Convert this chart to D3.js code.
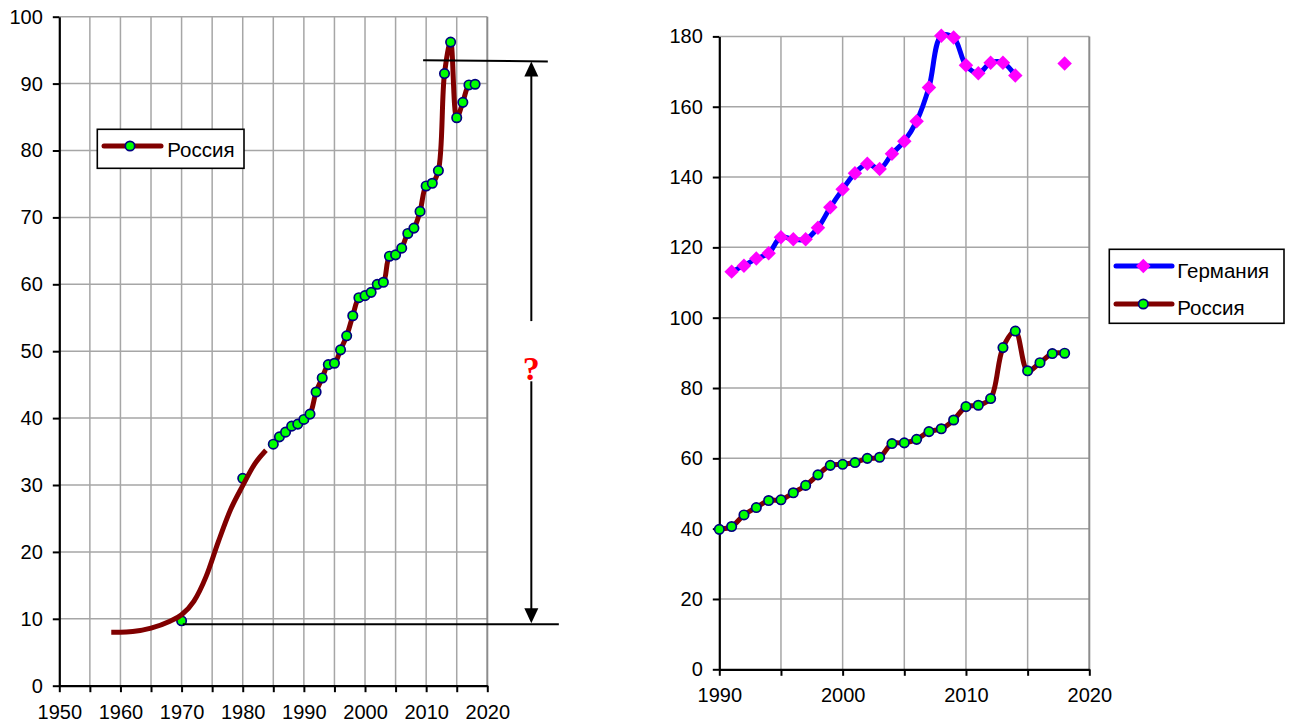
<!DOCTYPE html>
<html>
<head>
<meta charset="utf-8">
<script src="https://cdn.jsdelivr.net/npm/d3@7"></script>
<style>
  html, body { margin: 0; padding: 0; background: #ffffff; }
  svg { display: block; font-family: Arial, "Liberation Sans", sans-serif; }
</style>
</head>
<body>
<svg id="chart" width="1291" height="724"></svg>
<script>
// ---------------- DATA ----------------
const russiaYears = [1970, 1980, 1985, 1986, 1987, 1988, 1989, 1990, 1991, 1992, 1993, 1994, 1995,
  1996, 1997, 1998, 1999, 2000, 2001, 2002, 2003, 2004, 2005, 2006, 2007, 2008, 2009, 2010,
  2011, 2012, 2013, 2014, 2015, 2016, 2017, 2018];
const russiaValues = [9.7, 31.0, 36.1, 37.2, 37.9, 38.8, 39.1, 39.8, 40.6, 43.9, 46.0, 48.0, 48.2,
  50.2, 52.3, 55.3, 58.0, 58.3, 58.8, 60.0, 60.3, 64.2, 64.4, 65.4, 67.6, 68.4, 70.9, 74.7,
  75.1, 77.0, 91.5, 96.2, 84.9, 87.2, 89.8, 89.9];

// hand-drawn trend curve on the left chart (no markers)
const trendYears = [1958.5, 1960, 1962, 1965, 1968, 1970, 1972, 1974, 1976, 1978, 1980, 1982, 1983.8];
const trendValues = [8.0, 8.0, 8.1, 8.6, 9.6, 10.6, 12.6, 16.3, 21.5, 26.3, 29.9, 33.2, 35.2];

const germanyYears = [1991, 1992, 1993, 1994, 1995, 1996, 1997, 1998, 1999, 2000, 2001, 2002, 2003,
  2004, 2005, 2006, 2007, 2008, 2009, 2010, 2011, 2012, 2013, 2014, 2015, 2016, 2017, 2018];
const germanyValues = [113.1, 114.8, 116.8, 118.3, 122.9, 122.3, 122.3, 125.6, 131.4, 136.5, 141.1, 143.8, 142.3,
  146.6, 150.2, 155.9, 165.5, 180.2, 179.7, 171.8, 169.5, 172.5, 172.5, 168.9, null, null, null, 172.3];

const leftXTicks = [1950, 1955, 1960, 1965, 1970, 1975, 1980, 1985, 1990, 1995, 2000, 2005, 2010, 2015, 2020];
const leftYTicks = [0, 10, 20, 30, 40, 50, 60, 70, 80, 90, 100];
const rightXTicks = [1990, 1995, 2000, 2005, 2010, 2015, 2020];
const rightYTicks = [0, 20, 40, 60, 80, 100, 120, 140, 160, 180];

const seriesNames = ["Германия", "Россия"];
const questionMark = "?";

// annotation (in data units of the left chart)
const bracketTopValues = [93.5, 93.3];     // upper horizontal line, left/right end
const bracketTopYears = [2009.5, 2029.9];
const bracketBottomValue = 9.2;
const bracketBottomYears = [1970.2, 2031.7];
const arrowYear = 2027.2;
const arrowGapValues = [54.5, 45.5];       // shaft interrupted around the "?"

// ---------------- STYLE ----------------
const C = {
  russia: "#800000", germany: "#0000ff", dot: "#00ff00", dotStroke: "#000080",
  diamond: "#ff00ff", grid: "#a6a6a6", axis: "#000000"
};
const FONT = 20;
const DOT_R = 4.7;
const DIAMOND_AREA = 105;

const svg = d3.select("#chart");

function drawPanel(g, x, y, xTicks, yTicks, xLabelEvery) {
  g.append("g").selectAll("line").data(yTicks.filter(d => d !== 0)).join("line")
    .attr("x1", x.range()[0]).attr("x2", x.range()[1])
    .attr("y1", d => y(d)).attr("y2", d => y(d))
    .attr("stroke", C.grid).attr("stroke-width", 1.5);
  g.append("g").selectAll("line").data(xTicks.slice(1)).join("line")
    .attr("x1", d => x(d)).attr("x2", d => x(d))
    .attr("y1", y.range()[0]).attr("y2", y.range()[1])
    .attr("stroke", (d, i, n) => i === n.length - 1 ? "#8c8c8c" : C.grid)
    .attr("stroke-width", (d, i, n) => i === n.length - 1 ? 2 : 1.5);

  const xAxis = d3.axisBottom(x).tickValues(xTicks).tickSize(6.5).tickSizeOuter(0).tickPadding(12.5)
    .tickFormat(d => (d % xLabelEvery === 0 ? String(d) : ""));
  const yAxis = d3.axisLeft(y).tickValues(yTicks).tickSize(6.5).tickSizeOuter(0).tickPadding(10)
    .tickFormat(d => String(d));

  const gx = g.append("g").attr("transform", `translate(0,${y.range()[0]})`).call(xAxis);
  const gy = g.append("g").attr("transform", `translate(${x.range()[0]},0)`).call(yAxis);
  [gx, gy].forEach(a => {
    a.select(".domain").attr("stroke", C.axis).attr("stroke-width", 2.2);
    a.selectAll(".tick line").attr("stroke", C.axis).attr("stroke-width", 2);
    a.selectAll(".tick text").attr("fill", "#000").style("font-size", FONT + "px")
      .style("font-family", "Arial, 'Liberation Sans', sans-serif");
  });
}

function dots(g, data, x, y) {
  g.append("g").selectAll("circle").data(data).join("circle")
    .attr("cx", d => x(d.year)).attr("cy", d => y(d.value)).attr("r", DOT_R)
    .attr("fill", C.dot).attr("stroke", C.dotStroke).attr("stroke-width", 1.7);
}

function diamonds(g, data, x, y) {
  const sym = d3.symbol(d3.symbolSquare, DIAMOND_AREA);
  g.append("g").selectAll("path").data(data).join("path")
    .attr("d", sym())
    .attr("transform", d => `translate(${x(d.year)},${y(d.value)}) rotate(45)`)
    .attr("fill", C.diamond);
}

const russia = russiaYears.map((year, i) => ({ year, value: russiaValues[i] }));
const trend = trendYears.map((year, i) => ({ year, value: trendValues[i] }));
const germany = germanyYears.map((year, i) => ({ year, value: germanyValues[i] }));

// ================= LEFT CHART =================
const xL = d3.scaleLinear().domain([1950, 2020]).range([59.3, 487.3]);
const yL = d3.scaleLinear().domain([0, 100]).range([685.7, 16.7]);
const gL = svg.append("g");
drawPanel(gL, xL, yL, leftXTicks, leftYTicks, 10);

const lineL = d3.line().x(d => xL(d.year)).y(d => yL(d.value)).curve(d3.curveCatmullRom.alpha(0.5));
const russiaLeftLine = russia.filter(d => d.year >= 1985);
gL.append("path").datum(russiaLeftLine).attr("d", lineL)
  .attr("fill", "none").attr("stroke", C.russia).attr("stroke-width", 5)
  .attr("stroke-linejoin", "round");
dots(gL, russia, xL, yL);
gL.append("path").datum(trend)
  .attr("d", d3.line().x(d => xL(d.year)).y(d => yL(d.value)).curve(d3.curveMonotoneX))
  .attr("fill", "none").attr("stroke", C.russia).attr("stroke-width", 5);

// annotation lines and arrows
const ann = gL.append("g").attr("stroke", "#000").attr("stroke-width", 2);
ann.append("line")
  .attr("x1", xL(bracketTopYears[0])).attr("y1", yL(bracketTopValues[0]))
  .attr("x2", xL(bracketTopYears[1])).attr("y2", yL(bracketTopValues[1]));
ann.append("line")
  .attr("x1", xL(bracketBottomYears[0])).attr("y1", yL(bracketBottomValue))
  .attr("x2", xL(bracketBottomYears[1])).attr("y2", yL(bracketBottomValue));
const ax = xL(arrowYear);
const topTip = yL(bracketTopValues[0]) + 1.2;
const botTip = yL(bracketBottomValue) - 1;
ann.append("line").attr("x1", ax).attr("x2", ax).attr("y1", topTip + 14).attr("y2", yL(arrowGapValues[0]));
ann.append("line").attr("x1", ax).attr("x2", ax).attr("y1", yL(arrowGapValues[1])).attr("y2", botTip - 14);
gL.append("path").attr("d", `M${ax},${topTip} L${ax - 7},${topTip + 15} L${ax + 7},${topTip + 15} Z`).attr("fill", "#000");
gL.append("path").attr("d", `M${ax},${botTip} L${ax - 7},${botTip - 15} L${ax + 7},${botTip - 15} Z`).attr("fill", "#000");
gL.append("text").attr("x", ax).attr("y", yL(50) + 29).attr("text-anchor", "middle")
  .attr("fill", "#ff0000").style("font-family", "'Liberation Serif', 'Times New Roman', serif")
  .style("font-weight", "bold").style("font-size", "34px").text(questionMark);

// left legend
const lg = gL.append("g");
lg.append("rect").attr("x", 97.3).attr("y", 129.3).attr("width", 146.7).attr("height", 39)
  .attr("fill", "#fff").attr("stroke", "#000").attr("stroke-width", 1.6);
lg.append("line").attr("x1", 104).attr("x2", 161).attr("y1", 146).attr("y2", 146)
  .attr("stroke", C.russia).attr("stroke-width", 5).attr("stroke-linecap", "round");
lg.append("circle").attr("cx", 130).attr("cy", 146).attr("r", DOT_R)
  .attr("fill", C.dot).attr("stroke", C.dotStroke).attr("stroke-width", 1.7);
lg.append("text").attr("x", 167.3).attr("y", 157.3).style("font-size", "20.5px").text(seriesNames[1]);

// ================= RIGHT CHART =================
const xR = d3.scaleLinear().domain([1990, 2020]).range([719.3, 1089.3]);
const yR = d3.scaleLinear().domain([0, 180]).range([669.3, 36.4]);
const gR = svg.append("g");
drawPanel(gR, xR, yR, rightXTicks, rightYTicks, 10);

const lineR = d3.line().defined(d => d.value != null)
  .x(d => xR(d.year)).y(d => yR(d.value)).curve(d3.curveCatmullRom.alpha(0.5));
gR.append("path").datum(germany).attr("d", lineR)
  .attr("fill", "none").attr("stroke", C.germany).attr("stroke-width", 5).attr("stroke-linejoin", "round");
diamonds(gR, germany.filter(d => d.value != null), xR, yR);

const russiaRight = russia.filter(d => d.year >= 1990);
gR.append("path").datum(russiaRight).attr("d", lineR)
  .attr("fill", "none").attr("stroke", C.russia).attr("stroke-width", 5).attr("stroke-linejoin", "round");
dots(gR, russiaRight, xR, yR);

// right legend
const rg = gR.append("g");
rg.append("rect").attr("x", 1109.3).attr("y", 249.3).attr("width", 174.7).attr("height", 74)
  .attr("fill", "#fff").attr("stroke", "#000").attr("stroke-width", 1.6);
rg.append("line").attr("x1", 1116).attr("x2", 1172).attr("y1", 266).attr("y2", 266)
  .attr("stroke", C.germany).attr("stroke-width", 5).attr("stroke-linecap", "round");
rg.append("path").attr("d", d3.symbol(d3.symbolSquare, DIAMOND_AREA)())
  .attr("transform", "translate(1143.3,266) rotate(45)").attr("fill", C.diamond);
rg.append("text").attr("x", 1177.3).attr("y", 277.5).style("font-size", "20.5px").text(seriesNames[0]);
rg.append("line").attr("x1", 1116).attr("x2", 1172).attr("y1", 304).attr("y2", 304)
  .attr("stroke", C.russia).attr("stroke-width", 5).attr("stroke-linecap", "round");
rg.append("circle").attr("cx", 1143.3).attr("cy", 304).attr("r", DOT_R)
  .attr("fill", C.dot).attr("stroke", C.dotStroke).attr("stroke-width", 1.7);
rg.append("text").attr("x", 1177.3).attr("y", 315).style("font-size", "20.5px").text(seriesNames[1]);
</script>
</body>
</html>
